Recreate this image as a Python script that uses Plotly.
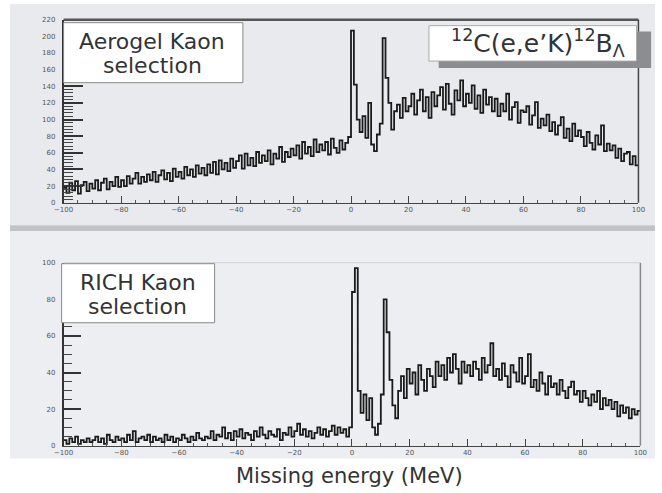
import plotly.graph_objects as go

W, H = 662, 493

# bin edges (1 MeV bins from -100 to 100)
bin_edges = list(range(-100, 101))

aerogel_counts = [
    18, 12, 24, 15, 26, 11, 21, 25, 14, 23,
    17, 27, 15, 24, 29, 16, 25, 20, 31, 19,
    27, 20, 32, 23, 29, 36, 23, 31, 25, 34,
    27, 37, 25, 33, 39, 28, 36, 26, 41, 31,
    37, 29, 43, 33, 40, 31, 45, 35, 42, 33,
    46, 36, 49, 34, 51, 40, 48, 38, 53, 42,
    50, 57, 41, 59, 45, 54, 44, 61, 48, 57,
    50, 63, 46, 59, 53, 67, 49, 61, 55, 65,
    57, 69, 53, 73, 59, 67, 56, 76, 61, 70,
    63, 73, 58, 77, 66, 60, 75, 64, 72, 79,
    207, 142, 100, 85, 104, 78, 120, 70, 62, 82,
    95, 198, 150, 120, 88, 110, 118, 102, 126, 110,
    116, 131, 106, 123, 136, 110, 127, 102, 133, 116,
    129, 139, 112, 143, 119, 106, 135, 123, 147, 116,
    131, 120, 141, 113, 129, 108, 136, 118, 127, 110,
    125, 104, 119, 110, 131, 100, 115, 121, 96, 111,
    109, 116, 94, 105, 121, 90, 101, 93, 106, 86,
    97, 82, 93, 103, 78, 89, 74, 95, 80, 87,
    79, 68, 85, 72, 64, 81, 70, 93, 62, 71,
    63, 69, 54, 65, 50, 59, 61, 46, 56, 45,
]

rich_counts = [
    3, 1, 4, 2, 5, 1, 3, 2, 4, 2,
    3, 5, 2, 4, 1, 6, 3, 2, 5, 3,
    4, 2, 6, 3, 8, 2, 4, 5, 3, 6,
    2, 5, 3, 4, 2, 6, 3, 5, 2, 4,
    3, 6, 4, 2, 5, 3, 7, 4, 3, 5,
    4, 8, 3, 6, 5, 10, 4, 7, 3, 8,
    5, 9, 4, 7, 6, 3, 8, 5, 10, 6,
    4, 8, 6, 5, 9, 3, 7, 6, 10, 5,
    8, 12, 6, 9, 5, 8, 4, 7, 10, 6,
    9, 5, 8, 11, 6, 10, 7, 9, 5, 10,
    84, 97, 30, 18, 28, 14, 26, 10, 6, 12,
    28, 80, 62, 36, 22, 15, 30, 38, 26, 42,
    34, 40, 28, 44, 36, 30, 42, 38, 32, 46,
    38, 44, 36, 48, 40, 50, 42, 34, 46, 40,
    44, 38, 46, 42, 36, 48, 40, 44, 56, 38,
    42, 36, 45, 38, 32, 44, 40, 35, 48, 34,
    38, 50, 32, 36, 30, 40, 34, 28, 38, 32,
    34, 28, 36, 30, 26, 32, 35, 28, 30, 24,
    30, 26, 22, 28, 24, 30, 20, 26, 22, 25,
    20, 24, 16, 22, 18, 21, 15, 20, 17, 19,
]

x_ticks = [-100, -80, -60, -40, -20, 0, 20, 40, 60, 80, 100]
top_y_ticks = [0, 20, 40, 60, 80, 100, 120, 140, 160, 180, 200, 220]
bot_y_ticks = [0, 20, 40, 60, 80, 100]


def px(x):
    return x / W


def py(y):
    return 1 - y / H


def step_xy(counts):
    xs = bin_edges[:]
    ys = counts + [counts[-1]]
    return xs, ys


fig = go.Figure()
for counts, xa, ya in [(aerogel_counts, "x", "y"), (rich_counts, "x2", "y2")]:
    xs, ys = step_xy(counts)
    fig.add_trace(go.Scatter(x=xs, y=ys, mode="lines", line_shape="hv",
                             line=dict(color="#1a1a1a", width=1.8),
                             xaxis=xa, yaxis=ya, showlegend=False, hoverinfo="skip"))

tickfont = dict(family="DejaVu Sans", size=7, color="#555")
xcommon = dict(range=[-100, 100], tickvals=x_ticks, ticks="inside", ticklen=7,
               tickwidth=1.2, tickcolor="#444", showgrid=False, zeroline=False,
               showline=True, linecolor="#444", linewidth=1.2, tickfont=tickfont,
               minor=dict(dtick=5, ticks="inside", ticklen=3, tickcolor="#555"))

fig.update_layout(
    width=W, height=H, margin=dict(l=0, r=0, t=0, b=0),
    paper_bgcolor="white", plot_bgcolor="#eff0f4",
    xaxis=dict(domain=[px(55), px(645)], anchor="y", **xcommon),
    yaxis=dict(domain=[py(202), py(16)], anchor="x", range=[0, 220], tickvals=top_y_ticks,
               ticks="inside", ticklen=20, tickwidth=1.5, tickcolor="#333",
               showgrid=False, zeroline=False, showline=True, linecolor="#333", linewidth=1.5,
               tickfont=tickfont, ticklabelstandoff=5,
               minor=dict(dtick=4, ticks="inside", ticklen=10, tickcolor="#444", tickwidth=1.2)),
    xaxis2=dict(domain=[px(55), px(647)], anchor="y2", **xcommon),
    yaxis2=dict(domain=[py(449), py(263)], anchor="x2", range=[0, 100], tickvals=bot_y_ticks,
                ticks="inside", ticklen=18, tickwidth=1.5, tickcolor="#333",
                showgrid=False, zeroline=False, showline=True, linecolor="#333", linewidth=1.5,
                tickfont=tickfont, ticklabelstandoff=5,
                minor=dict(dtick=5, ticks="inside", ticklen=9, tickcolor="#444", tickwidth=1.2)),
)

shapes = []
# backgrounds
shapes.append(dict(type="rect", xref="paper", yref="paper", x0=0, x1=1, y0=py(225), y1=1,
                   fillcolor="#e9eaee", line_width=0, layer="below"))
shapes.append(dict(type="rect", xref="paper", yref="paper", x0=0, x1=1, y0=py(231), y1=py(225),
                   fillcolor="#c2c3c7", line_width=0, layer="below"))
shapes.append(dict(type="rect", xref="paper", yref="paper", x0=0, x1=1, y0=py(462), y1=py(231),
                   fillcolor="#eceef1", line_width=0, layer="below"))
# frame lines
shapes.append(dict(type="line", xref="paper", yref="paper", x0=px(55), x1=px(645), y0=py(16), y1=py(16),
                   line=dict(color="#555", width=2.5), layer="above"))
shapes.append(dict(type="line", xref="paper", yref="paper", x0=px(645), x1=px(645), y0=py(202), y1=py(16),
                   line=dict(color="#444", width=1.5), layer="above"))
shapes.append(dict(type="line", xref="paper", yref="paper", x0=px(647), x1=px(647), y0=py(449), y1=py(263),
                   line=dict(color="#888", width=1.5), layer="above"))
shapes.append(dict(type="line", xref="paper", yref="paper", x0=px(55), x1=px(647), y0=py(263), y1=py(263),
                   line=dict(color="#d0d0d4", width=1), layer="above"))
# label boxes
shapes.append(dict(type="rect", xref="paper", yref="paper", x0=px(55), x1=px(239), y0=py(80), y1=py(19),
                   fillcolor="white", line=dict(color="#888", width=1), layer="above"))
shapes.append(dict(type="rect", xref="paper", yref="paper", x0=px(440), x1=px(658), y0=py(65), y1=py(28),
                   fillcolor="#8c8d90", line_width=0, layer="above"))
shapes.append(dict(type="rect", xref="paper", yref="paper", x0=px(430), x1=px(643), y0=py(58), y1=py(22),
                   fillcolor="white", line=dict(color="#aaa", width=1), layer="above"))
shapes.append(dict(type="rect", xref="paper", yref="paper", x0=px(53), x1=px(210), y0=py(324), y1=py(264),
                   fillcolor="white", line=dict(color="#888", width=1), layer="above"))
fig.update_layout(shapes=shapes)

textfont = dict(family="DejaVu Sans", size=22, color="#333")
ann = [
    dict(text="Aerogel Kaon", x=px(146), y=py(38)),
    dict(text="selection", x=px(146), y=py(63)),
    dict(text="RICH Kaon", x=px(131), y=py(283)),
    dict(text="selection", x=px(131), y=py(307)),
]
annotations = []
for a in ann:
    annotations.append(dict(text=a["text"], x=a["x"], y=a["y"], xref="paper", yref="paper",
                            xanchor="center", yanchor="middle", showarrow=False, font=textfont))
annotations.append(dict(text="<sup>12</sup>C(e,e’K)<sup>12</sup>B<sub>Λ</sub>", x=px(542), y=py(40),
                        xref="paper", yref="paper", xanchor="center", yanchor="middle",
                        showarrow=False, font=dict(family="DejaVu Sans", size=25, color="#333")))
annotations.append(dict(text="Missing energy (MeV)", x=px(348), y=py(480), xref="paper", yref="paper",
                        xanchor="center", yanchor="middle", showarrow=False,
                        font=dict(family="DejaVu Sans", size=21, color="#333")))
fig.update_layout(annotations=annotations)

fig.write_html("out.html", config={"displayModeBar": False},
               post_script="document.body.style.margin='0';document.body.style.padding='0';")
